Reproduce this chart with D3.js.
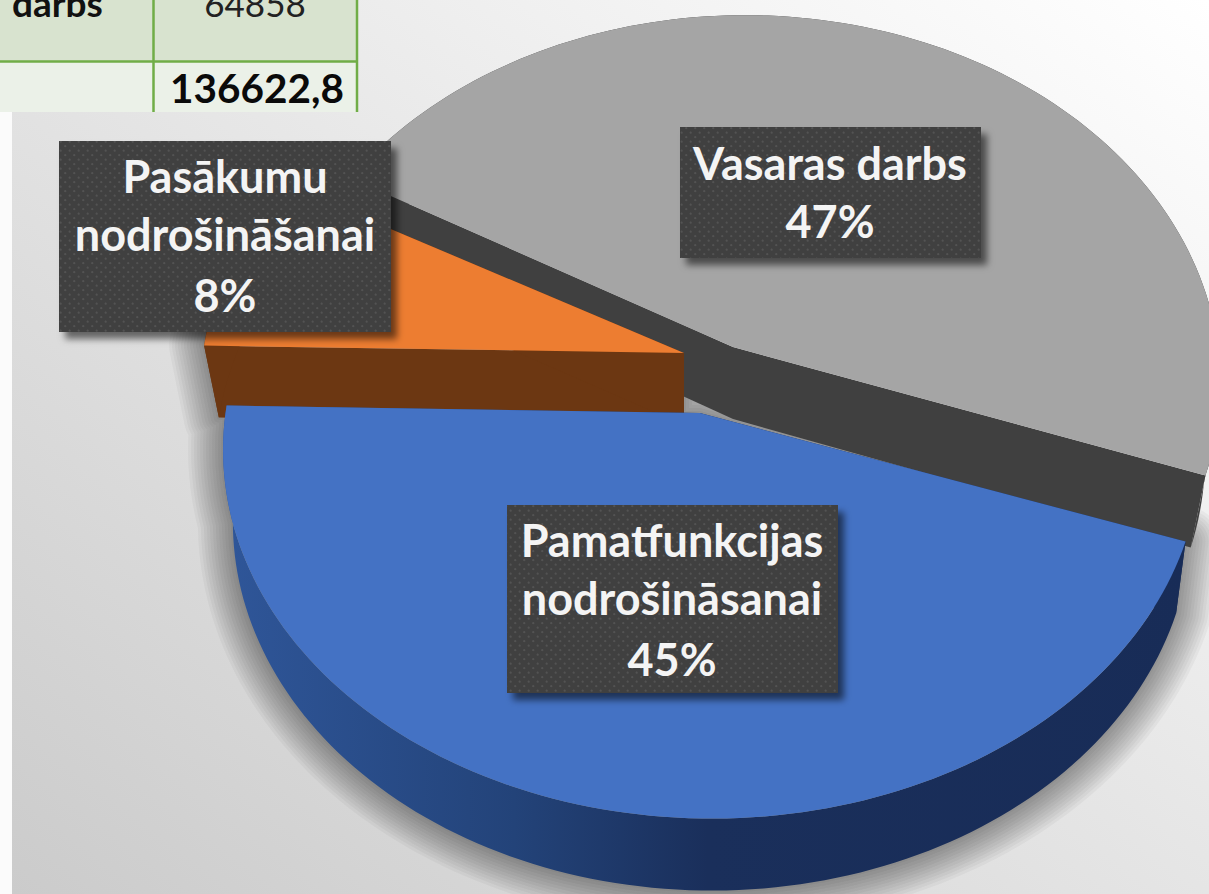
<!DOCTYPE html>
<html><head><meta charset="utf-8">
<script src="https://cdn.jsdelivr.net/npm/d3@7/dist/d3.min.js"></script>
<style>html,body{margin:0;padding:0;background:#fff;overflow:hidden}svg{display:block}text{font-family:Lato,"Open Sans",sans-serif}</style>
</head><body><div id="chart"></div>
<script>
// ---- data ----
const categories = ["Vasaras darbs", "Pamatfunkcijas nodrošināsanai", "Pasākumu nodrošināšanai"];
const values = [64858, 61200, 10564.8];
const labelLines = [["Vasaras darbs"], ["Pamatfunkcijas", "nodrošināsanai"], ["Pasākumu", "nodrošināšanai"]];
const tableRows = [["darbs", "64858"], ["", "136622,8"]];

// ---- styles and layout ----
const W = 1209, H = 894;
const topColors = ["#a5a5a5", "#4472c4", "#ed7d31"];
const wallColors = ["#404040", "url(#blueWall)", "#6c3712"];
const centers = [[745, 347, 473, .968], [712, 413, 486.5, .98], [696, 353, 493, .97]]; // cx, cy, x radius, base scale
const boxes = [[680, 127, 301, 131, 830, [180, 238]], [507, 505, 331, 188, 672, [557, 615, 676]], [59, 141, 332, 191, 225, [193, 251, 312]]];
const drawOrder = [0, 2, 1];
const haloWidths = d3.range(4, 76, 6);
const k = .1, ry = 365, depth = 72, apexDx = -12;
const startDeg = 299;

const svg = d3.select("#chart").append("svg").attr("width", W).attr("height", H);
const defs = svg.append("defs");

const bg = defs.append("linearGradient").attr("id", "bg").attr("x1", 1).attr("y1", 0).attr("x2", 0).attr("y2", 1);
[[0, "#ffffff"], [1, "#cbcbcb"]].forEach(s => bg.append("stop").attr("offset", s[0]).attr("stop-color", s[1]));

const bw = defs.append("linearGradient").attr("id", "blueWall").attr("gradientUnits", "userSpaceOnUse")
  .attr("x1", 225).attr("y1", 0).attr("x2", 1190).attr("y2", 0);
[[0, "#2f5699"], [.3, "#234379"], [.5, "#1a2f5b"], [1, "#182c57"]].forEach(s => bw.append("stop").attr("offset", s[0]).attr("stop-color", s[1]));

const ls = defs.append("filter").attr("id", "boxShadow").attr("x", "-10%").attr("y", "-10%").attr("width", "125%").attr("height", "130%");
ls.append("feDropShadow").attr("dx", 6).attr("dy", 7).attr("stdDeviation", 3.5).attr("flood-color", "#000").attr("flood-opacity", .55);

const pat = defs.append("pattern").attr("id", "dots").attr("patternUnits", "userSpaceOnUse").attr("width", 9).attr("height", 9);
pat.append("rect").attr("width", 9).attr("height", 9).attr("fill", "#404040");
pat.append("circle").attr("cx", 2.2).attr("cy", 2.2).attr("r", 1.1).attr("fill", "#535353");
pat.append("circle").attr("cx", 6.7).attr("cy", 6.7).attr("r", 1.1).attr("fill", "#535353");

// background
svg.append("rect").attr("width", W).attr("height", H).attr("fill", "#fbfbfb");
svg.append("rect").attr("x", 12).attr("width", W - 12).attr("height", H).attr("fill", "url(#bg)");

// pie layout from the values
const rad = d => d * Math.PI / 180;
const total = d3.sum(values);
const slices = d3.pie().sort(null).startAngle(rad(startDeg)).endAngle(rad(startDeg) + 2 * Math.PI)(values);

function rim(i, a, low) {
  const [cx, cy, fx, sc] = centers[i];
  const u = Math.sin(a), v = -Math.cos(a), d = 1 - k * v, s = low ? sc : 1;
  return [cx + fx * s * u / d, cy + ry * v / d + (low ? depth : 0)];
}
function apex(i, low) { return [centers[i][0] + apexDx, centers[i][1] + (low ? depth : 0)]; }
const arcPts = (i, s, low) => d3.range(0, 121).map(t => rim(i, s.startAngle + (s.endAngle - s.startAngle) * t / 120, low));
const line = d3.line();
const closed = pts => line(pts) + "Z";
const topPts = (s, i) => [apex(i, false), ...arcPts(i, s, false)];
const outerWall = (s, i) => [...arcPts(i, s, false), ...arcPts(i, s, true).reverse()];
const startWall = (s, i) => [apex(i, false), rim(i, s.startAngle, false), rim(i, s.startAngle, true), apex(i, true)];
const endWall = (s, i) => [apex(i, false), rim(i, s.endAngle, false), rim(i, s.endAngle, true), apex(i, true)];

// soft shadow under the lower slices, as stacked translucent outlines
const haloPath = [1, 2].map(i => {
  const s = slices[i];
  return closed(outerWall(s, i)) + closed(startWall(s, i)) + closed(endWall(s, i));
}).join("");
svg.append("g").selectAll("path").data(haloWidths).join("path")
  .attr("d", haloPath).attr("fill", "none").attr("stroke", "#000").attr("stroke-opacity", .036)
  .attr("stroke-linejoin", "round").attr("stroke-width", d => d);

// slices, far one first
drawOrder.forEach(i => {
  const s = slices[i];
  const g = svg.append("g").attr("class", "slice");
  [startWall(s, i), endWall(s, i), outerWall(s, i)].forEach(p => g.append("path").attr("d", closed(p)).attr("fill", wallColors[i]));
  g.append("path").attr("d", closed(topPts(s, i))).attr("fill", topColors[i]);
});

// data labels
slices.forEach((s, i) => {
  const [x, y, w, h, tx, base] = boxes[i];
  const g = svg.append("g");
  g.append("rect").attr("x", x).attr("y", y).attr("width", w).attr("height", h).attr("fill", "url(#dots)").attr("filter", "url(#boxShadow)");
  [...labelLines[i], Math.round(s.value / total * 100) + "%"].forEach((t, j) => {
    g.append("text").attr("x", tx).attr("y", base[j]).attr("text-anchor", "middle")
      .attr("font-size", 45).attr("font-weight", 700).attr("fill", "#f4f4f4").text(t);
  });
});

// table fragment on top
const tb = svg.append("g");
tb.append("rect").attr("width", 358).attr("height", 61).attr("fill", "#d8e3cf");
tb.append("rect").attr("y", 61).attr("width", 358).attr("height", 51).attr("fill", "#ebf1e8");
tb.append("line").attr("x1", 0).attr("x2", 358).attr("y1", 61.5).attr("y2", 61.5).attr("stroke", "#70ad47").attr("stroke-width", 2.5);
[153.5, 357].forEach(x => tb.append("line").attr("x1", x).attr("x2", x).attr("y1", 0).attr("y2", 112).attr("stroke", "#70ad47").attr("stroke-width", 2.5));
tb.append("text").attr("x", 12).attr("y", 17).attr("font-size", 37).attr("font-weight", 700).attr("fill", "#111").text(tableRows[0][0]);
tb.append("text").attr("x", 255).attr("y", 17).attr("text-anchor", "middle").attr("font-size", 35).attr("fill", "#222").text(tableRows[0][1]);
tb.append("text").attr("x", 257).attr("y", 103).attr("text-anchor", "middle").attr("font-size", 40.5).attr("font-weight", 700).attr("fill", "#0a0a0a").text(tableRows[1][1]);
</script></body></html>
